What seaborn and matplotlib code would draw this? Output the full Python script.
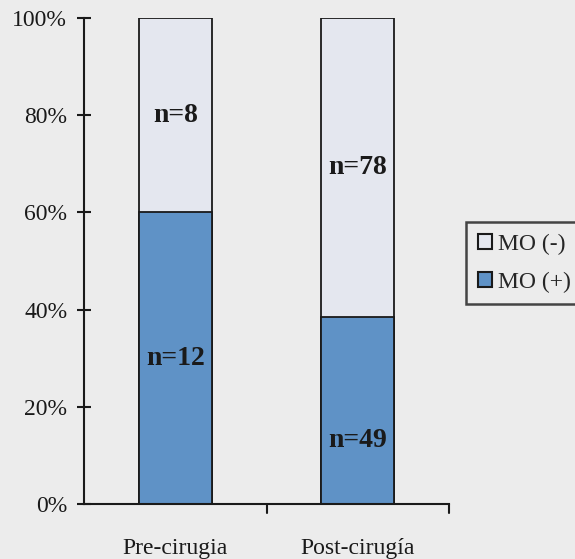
import numpy as np
import pandas as pd
import seaborn as sns
import matplotlib.pyplot as plt
from matplotlib.patches import Patch

# Data
stages = ["Pre-cirugia", "Post-cirugía"]
n_pos = [12, 49]   # MO (+)
n_neg = [8, 78]    # MO (-)

sns.set_theme(style="white")
plt.rcParams["font.family"] = ["Liberation Serif", "DejaVu Serif"]

bg = "#ececec"
c_pos = "#5f92c6"
c_neg = "#e4e7ef"
ink = "#1a1a1a"

pos = np.array(n_pos, dtype=float)
neg = np.array(n_neg, dtype=float)
tot = pos + neg
pct_pos = pos / tot * 100
pct_tot = tot / tot * 100

df = pd.DataFrame({"stage": stages, "pos": pct_pos, "tot": pct_tot})

fig = plt.figure(figsize=(5.75, 5.59), dpi=100, facecolor=bg)
ax = fig.add_axes([0.146, 0.098, 0.635, 0.870])
ax.set_facecolor(bg)

sns.barplot(data=df, x="stage", y="tot", color=c_neg, width=0.40,
            edgecolor=ink, linewidth=1.3, saturation=1, ax=ax)
sns.barplot(data=df, x="stage", y="pos", color=c_pos, width=0.40,
            edgecolor=ink, linewidth=1.3, saturation=1, ax=ax)

# segment labels
for i in range(len(stages)):
    y_neg = (pct_pos[i] + 100) / 2
    y_pos = pct_pos[i] / 2 if i == 0 else pct_pos[i] * 0.34
    ax.text(i, y_neg, f"n={n_neg[i]}", ha="center", va="center",
            fontsize=20, fontweight="bold", color=ink)
    ax.text(i, y_pos, f"n={n_pos[i]}", ha="center", va="center",
            fontsize=20, fontweight="bold", color=ink)

ax.set_xlim(-0.5, 1.5)
ax.set_ylim(0, 100)
ax.set_yticks(np.arange(0, 101, 20))
ax.set_yticklabels([f"{v}%" for v in range(0, 101, 20)], fontsize=17, color=ink)
ax.set_xticks([0, 1])
ax.set_xticklabels(stages, fontsize=17, color=ink)
ax.tick_params(axis="x", bottom=False, length=0, pad=24)
ax.tick_params(axis="y", left=True, direction="inout", length=10, width=1.5,
               color=ink, pad=7)
# category boundary ticks
for xb in [0.5, 1.5]:
    ax.plot([xb, xb], [0, -1.8], color=ink, lw=1.5, clip_on=False)
ax.set_xlabel("")
ax.set_ylabel("")

for s in ["top", "right"]:
    ax.spines[s].set_visible(False)
for s in ["left", "bottom"]:
    ax.spines[s].set_color(ink)
    ax.spines[s].set_linewidth(1.5)

handles = [Patch(facecolor=c_neg, edgecolor=ink, linewidth=1.5, label="MO (-)"),
           Patch(facecolor=c_pos, edgecolor=ink, linewidth=1.5, label="MO (+)")]
leg = fig.legend(handles=handles, loc="upper left",
                 bbox_to_anchor=(466 / 575, 1 - 222 / 559),
                 frameon=True, fancybox=False, fontsize=17,
                 handlelength=0.62, handleheight=0.62, handletextpad=0.25,
                 borderpad=0.5, labelspacing=0.7, borderaxespad=0)
leg.get_frame().set_edgecolor(ink)
leg.get_frame().set_linewidth(1.8)
leg.get_frame().set_facecolor(bg)

fig.savefig("out.png", dpi=100, facecolor=bg)
